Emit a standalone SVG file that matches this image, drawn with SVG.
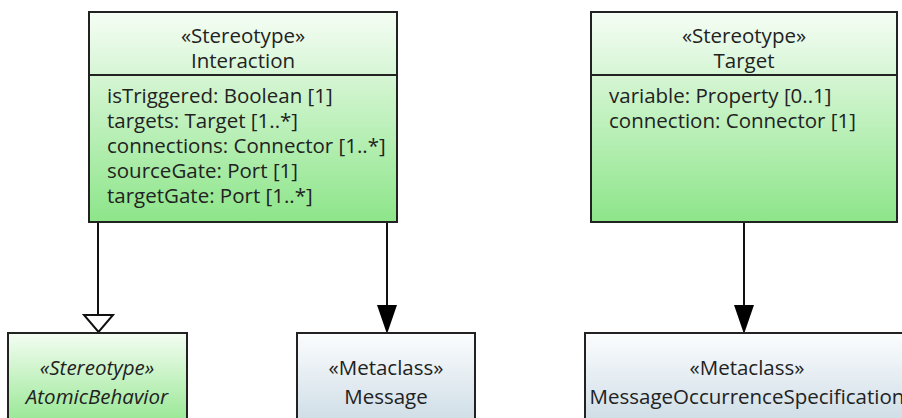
<svg xmlns="http://www.w3.org/2000/svg" width="902" height="418" viewBox="0 0 902 418">
<defs>
<linearGradient id="gGreen" x1="0" y1="0" x2="0" y2="1">
<stop offset="0" stop-color="#f6fdf5"/>
<stop offset="1" stop-color="#8de589"/>
</linearGradient>
<linearGradient id="gGreenSmall" x1="0" y1="0" x2="0" y2="1">
<stop offset="0" stop-color="#f4fdf2"/>
<stop offset="1" stop-color="#8de589"/>
</linearGradient>
<linearGradient id="gBlue" x1="0" y1="0" x2="0" y2="1">
<stop offset="0" stop-color="#fbfdfe"/>
<stop offset="1" stop-color="#c9d9e3"/>
</linearGradient>
</defs>
<style>
.box{stroke:#222;stroke-width:2}
.t{font-family:"Open Sans","Noto Sans","DejaVu Sans",sans-serif;font-size:20.5px;fill:#222}
.c{text-anchor:middle}
.i{font-style:italic}
.edge{stroke:#111;stroke-width:2;fill:none}
</style>
<rect width="902" height="418" fill="#fff"/>
<g id="edges">
<line class="edge" x1="98" y1="223" x2="98" y2="314"/>
<path d="M84,315 L113,315 L98.5,332 Z" fill="#fff" stroke="#111" stroke-width="2"/>
<line class="edge" x1="387" y1="223" x2="387" y2="306"/>
<path d="M377,305 L397,305 L387,334 Z" fill="#000"/>
<line class="edge" x1="744" y1="223" x2="744" y2="306"/>
<path d="M734,305 L754,305 L744,334 Z" fill="#000"/>
</g>
<g id="interaction">
<rect class="box" x="89" y="12" width="308" height="210" fill="url(#gGreen)"/>
<line class="box" x1="89" y1="75" x2="397" y2="75"/>
<text class="t c" x="243" y="43">«Stereotype»</text>
<text class="t c" x="243" y="68">Interaction</text>
<text class="t" x="107" y="103">isTriggered: Boolean [1]</text>
<text class="t" x="107" y="128">targets: Target [1..*]</text>
<text class="t" x="107" y="153">connections: Connector [1..*]</text>
<text class="t" x="107" y="178">sourceGate: Port [1]</text>
<text class="t" x="107" y="203">targetGate: Port [1..*]</text>
</g>
<g id="target">
<rect class="box" x="591" y="12" width="306" height="210" fill="url(#gGreen)"/>
<line class="box" x1="591" y1="75" x2="897" y2="75"/>
<text class="t c" x="744" y="43">«Stereotype»</text>
<text class="t c" x="744" y="68">Target</text>
<text class="t" x="609" y="103">variable: Property [0..1]</text>
<text class="t" x="609" y="128">connection: Connector [1]</text>
</g>
<g id="atomicBehavior">
<rect class="box" x="8" y="333" width="179" height="100" fill="url(#gGreenSmall)"/>
<text class="t c i" x="97" y="375">«Stereotype»</text>
<text class="t c i" x="97" y="404">AtomicBehavior</text>
</g>
<g id="message">
<rect class="box" x="297" y="333" width="178" height="100" fill="url(#gBlue)"/>
<text class="t c" x="386" y="375">«Metaclass»</text>
<text class="t c" x="386" y="404">Message</text>
</g>
<g id="messageOccurrenceSpecification">
<rect class="box" x="585" y="333" width="330" height="100" fill="url(#gBlue)"/>
<text class="t c" x="747" y="375">«Metaclass»</text>
<text class="t c" x="747" y="404">MessageOccurrenceSpecification</text>
</g>
</svg>
